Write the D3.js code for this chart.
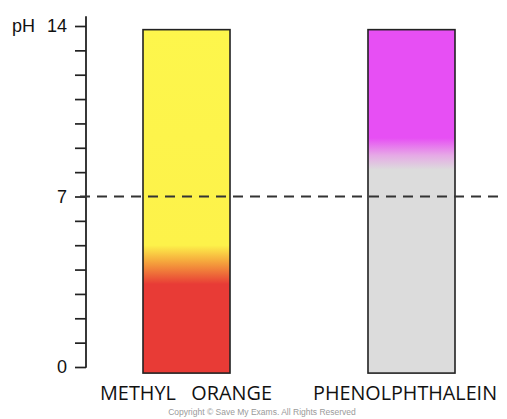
<!DOCTYPE html>
<html><head><meta charset="utf-8">
<script src="https://cdn.jsdelivr.net/npm/d3@7"></script>
<style>body{margin:0;background:#fff}svg{display:block}</style>
</head><body><svg id="c" width="507" height="419"></svg>
<script>
// Data
const indicators = ["METHYL   ORANGE", "PHENOLPHTHALEIN"];
const barTop = [13.85, 13.85];
const barBottom = [-0.25, -0.25];
// colour stops: [pH, colour]
const methylStops = [[14, "#fdf64c"], [5.0, "#fdf24a"], [4.3, "#f5a33c"], [3.4, "#e83b36"], [0, "#e83b36"]];
const phenolStops = [[14, "#e74ff4"], [9.4, "#e74ff4"], [8.7, "#e6a8e6"], [8.1, "#dcdcdc"], [0, "#dcdcdc"]];
const tickValues = d3.range(0, 15);
const labelledTicks = [0, 7, 14];
const neutral = 7;

const svg = d3.select("#c");
const y = d3.scaleLinear().domain([0, 14]).range([367, 26]);
const x = d3.scaleBand().domain(indicators).range([143, 455]).paddingInner(0.6133).paddingOuter(0);
const fontFam = "'Open Sans','Noto Sans',sans-serif";

// gradients
const defs = svg.append("defs");
[methylStops, phenolStops].forEach((stops, i) => {
  const g = defs.append("linearGradient").attr("id", "g" + i)
    .attr("gradientUnits", "userSpaceOnUse")
    .attr("x1", 0).attr("x2", 0).attr("y1", y(14)).attr("y2", y(0));
  stops.forEach(s => g.append("stop")
    .attr("offset", (y(s[0]) - y(14)) / (y(0) - y(14)))
    .attr("stop-color", s[1]));
});

// axis
const axis = d3.axisLeft(y).tickValues(tickValues).tickSize(11).tickPadding(8)
  .tickFormat(d => labelledTicks.includes(d) ? d : "");
const ag = svg.append("g").attr("transform", "translate(86,0)").call(axis);
ag.select(".domain").remove();
ag.selectAll(".tick line").attr("stroke", "#222").attr("stroke-width", 1.7);
ag.selectAll(".tick text").attr("font-family", "'Liberation Sans',Arial,sans-serif")
  .attr("font-size", 18).attr("fill", "#111");
ag.append("line").attr("x1", 0).attr("x2", 0).attr("y1", y(0) + 0.8).attr("y2", y(14.4))
  .attr("stroke", "#222").attr("stroke-width", 1.8);
svg.append("text").attr("x", 12).attr("y", y(14)).attr("dy", "0.32em")
  .attr("font-family", "'Liberation Sans',Arial,sans-serif").attr("font-size", 18)
  .attr("fill", "#111").text("pH");

// bars
svg.selectAll("rect.bar").data(indicators).join("rect").attr("class", "bar")
  .attr("x", d => x(d)).attr("width", x.bandwidth())
  .attr("y", (d, i) => y(barTop[i])).attr("height", (d, i) => y(barBottom[i]) - y(barTop[i]))
  .attr("fill", (d, i) => `url(#g${i})`).attr("stroke", "#222").attr("stroke-width", 1.6);

// neutral dashed line
svg.append("line").attr("x1", 80).attr("x2", 504).attr("y1", y(neutral)).attr("y2", y(neutral))
  .attr("stroke", "#333").attr("stroke-width", 1.8).attr("stroke-dasharray", "10,7");

// labels
const labelWidths = [172, 184];
const labelCenters = [186, 405];
svg.selectAll("text.lab").data(indicators).join("text").attr("class", "lab")
  .attr("x", (d, i) => labelCenters[i]).attr("y", 400)
  .attr("text-anchor", "middle").attr("font-family", fontFam).attr("font-size", 19.5)
  .attr("font-weight", 400)
  .attr("textLength", (d, i) => labelWidths[i]).attr("lengthAdjust", "spacingAndGlyphs")
  .attr("fill", "#111").attr("xml:space", "preserve").style("white-space", "pre").text(d => d);

svg.append("text").attr("x", 262).attr("y", 415).attr("text-anchor", "middle")
  .attr("font-family", "'Liberation Sans',Arial,sans-serif").attr("font-size", 8.5)
  .attr("fill", "#9a9a9a").text("Copyright © Save My Exams. All Rights Reserved");
</script></body></html>
